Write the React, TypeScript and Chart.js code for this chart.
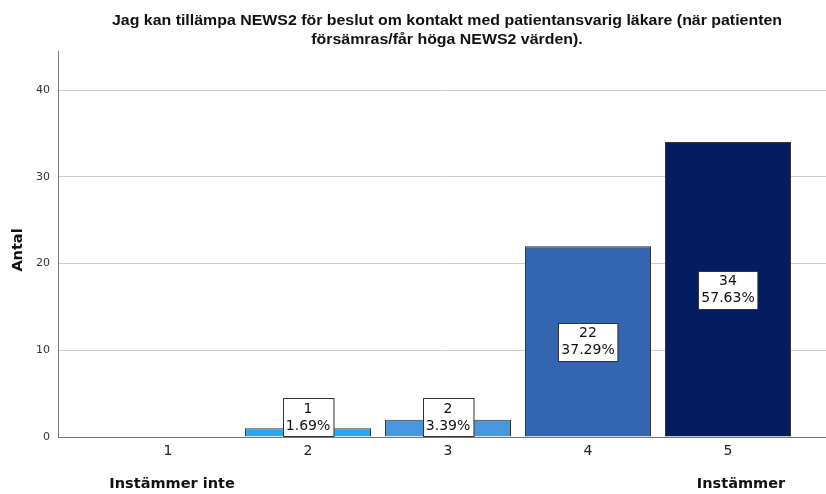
import React, { useEffect, useRef } from "react";
import { Chart, registerables } from "chart.js";

Chart.register(...registerables);

const titleLines = [
  "Jag kan tillämpa NEWS2 för beslut om kontakt med patientansvarig läkare (när patienten",
  "försämras/får höga NEWS2 värden).",
];
const categories = [1, 2, 3, 4, 5];
const counts = [0, 1, 2, 22, 34];
const barColors = ["#2aa6ee", "#2aa6ee", "#4a97e0", "#3465b1", "#051d60"];
const yTicks = [0, 10, 20, 30, 40];
const yTitle = "Antal";
const leftEndLabel = "Instämmer inte";
const rightEndLabel = "Instämmer";

const total = counts.reduce((a, b) => a + b, 0);

const overlayPlugin = {
  id: "overlay",
  afterDatasetsDraw(chart: any) {
    const ctx = chart.ctx as CanvasRenderingContext2D;
    const meta = chart.getDatasetMeta(0);
    const yScale = chart.scales.y;
    const xScale = chart.scales.x;
    const base = yScale.getPixelForValue(0);
    ctx.save();
    ctx.font = "14px 'DejaVu Sans'";
    ctx.textAlign = "center";
    ctx.textBaseline = "middle";
    meta.data.forEach((bar: any, i: number) => {
      const v = counts[i];
      if (!v) return;
      const l1 = String(v);
      const l2 = ((v / total) * 100).toFixed(2) + "%";
      const w = Math.max(ctx.measureText(l1).width, ctx.measureText(l2).width) + 6;
      const h = 38;
      let cy = (bar.y + base) / 2;
      if (cy > base - h / 2 - 1) cy = base - h / 2 - 1;
      const x0 = Math.round(bar.x - w / 2) + 0.5;
      const y0 = Math.round(cy - h / 2) + 0.5;
      ctx.fillStyle = "#ffffff";
      ctx.fillRect(x0, y0, w, h);
      ctx.strokeStyle = "#333333";
      ctx.lineWidth = 1;
      ctx.strokeRect(x0, y0, w, h);
      ctx.fillStyle = "#111111";
      ctx.fillText(l1, bar.x, cy - 8);
      ctx.fillText(l2, bar.x, cy + 9);
    });
    ctx.restore();

    // Title
    ctx.save();
    ctx.fillStyle = "#111111";
    ctx.textAlign = "center";
    ctx.textBaseline = "middle";
    ctx.font = "bold 15px 'Liberation Sans'";
    const cx = 447;
    const targetW = 670;
    const m = ctx.measureText(titleLines[0]).width;
    const sx = targetW / m;
    titleLines.forEach((line, i) => {
      ctx.save();
      ctx.translate(cx, 21 + i * 19);
      ctx.scale(sx, 1);
      ctx.fillText(line, 0, 0);
      ctx.restore();
    });
    ctx.restore();

    // Y title
    ctx.save();
    ctx.fillStyle = "#111111";
    ctx.font = "bold 14.5px 'DejaVu Sans'";
    ctx.textAlign = "center";
    ctx.textBaseline = "middle";
    ctx.translate(18, (yScale.top + yScale.bottom) / 2 + 6);
    ctx.rotate(-Math.PI / 2);
    ctx.fillText(yTitle, 0, 0);
    ctx.restore();

    // End labels
    ctx.save();
    ctx.fillStyle = "#111111";
    ctx.font = "bold 14.5px 'DejaVu Sans'";
    ctx.textAlign = "center";
    ctx.textBaseline = "middle";
    ctx.fillText(leftEndLabel, xScale.getPixelForValue(categories[0]) + 4, 484);
    ctx.fillText(rightEndLabel, xScale.getPixelForValue(categories[categories.length - 1]) + 13, 484);
    ctx.restore();
  },
};

export default function App() {
  const ref = useRef<HTMLCanvasElement>(null);
  useEffect(() => {
    if (!ref.current) return;
    const chart = new Chart(ref.current, {
      type: "bar",
      data: {
        datasets: [
          {
            data: categories.map((c, i) => ({ x: c, y: counts[i] })),
            backgroundColor: barColors,
            borderColor: "#333333",
            borderWidth: 1,
            categoryPercentage: 1,
            barPercentage: 0.9,
          },
        ],
      },
      options: {
        animation: false,
        responsive: false,
        layout: { padding: { top: 51, left: 0, right: 0, bottom: 0 } },
        plugins: { legend: { display: false }, title: { display: false }, tooltip: { enabled: false } },
        scales: {
          x: {
            type: "linear",
            offset: false,
            min: 0.214,
            max: 5.7,
            afterFit: (s: any) => {
              s.height = 57;
            },
            afterBuildTicks: (s: any) => {
              s.ticks = categories.map((c) => ({ value: c }));
            },
            ticks: {
              color: "#222222",
              font: { family: "DejaVu Sans", size: 14 },
              padding: 6,
              callback: (v: any) => String(v),
            },
            grid: { display: false, drawTicks: false, offset: false },
            border: { display: true, color: "#777777", width: 1 },
          },
          y: {
            min: 0,
            max: 44.5,
            afterFit: (s: any) => {
              s.width = 58;
            },
            afterBuildTicks: (s: any) => {
              s.ticks = yTicks.map((v) => ({ value: v }));
            },
            ticks: {
              color: "#333333",
              font: { family: "DejaVu Sans", size: 11 },
              padding: 8,
            },
            grid: { color: "#cccccc", drawTicks: false, lineWidth: 1 },
            border: { display: true, color: "#777777", width: 1 },
          },
        },
      },
      plugins: [overlayPlugin],
    } as any);
    return () => chart.destroy();
  }, []);
  return (
    <div style={{ position: "absolute", left: 0, top: 0, width: 826, height: 494, background: "#fff" }}>
      <canvas ref={ref} width={826} height={494} />
    </div>
  );
}
